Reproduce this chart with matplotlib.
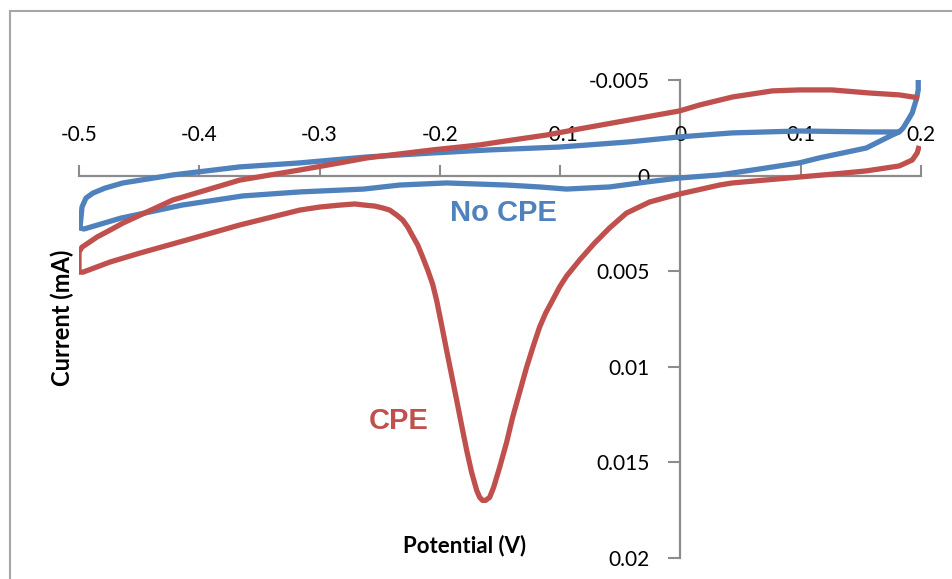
import matplotlib
matplotlib.use("Agg")
import matplotlib.pyplot as plt
from matplotlib.lines import Line2D

# cyclic voltammograms, potential in V, current in mA
cpe_v = [0.1985, 0.1819, 0.1570, 0.1262, 0.0988, 0.0764, 0.0432, 0.0158, -0.0008, -0.0282,
         -0.0565, -0.0839, -0.1113, -0.1503, -0.1669, -0.2060, -0.2608, -0.2832, -0.3164, -0.3663,
         -0.4219, -0.4635, -0.4742, -0.4850, -0.4925, -0.4975, -0.5000, -0.5000,
         -0.4967, -0.4742, -0.4493, -0.4078, -0.3663, -0.3164, -0.2998, -0.2832, -0.2708, -0.2625,
         -0.2542, -0.2475, -0.2417, -0.2359, -0.2309, -0.2267, -0.2226, -0.2184, -0.2143, -0.2101,
         -0.2060, -0.2027, -0.1985, -0.1944, -0.1902, -0.1860, -0.1819, -0.1777, -0.1736, -0.1694,
         -0.1669, -0.1645, -0.1620, -0.1586, -0.1553, -0.1503, -0.1445, -0.1395, -0.1337, -0.1279,
         -0.1221, -0.1171, -0.1121, -0.1063, -0.1005, -0.0947, -0.0839, -0.0714, -0.0590, -0.0449,
         -0.0257, -0.0108, -0.0008, 0.0324, 0.0432, 0.0988, 0.1279, 0.1545, 0.1819, 0.1927,
         0.1968, 0.1985]
cpe_i = [-0.00406, -0.00422, -0.00432, -0.00448, -0.00448, -0.00443, -0.00411, -0.00369, -0.00338, -0.00307,
         -0.00275, -0.00244, -0.00212, -0.00176, -0.00160, -0.00134, -0.00092, -0.00066, -0.00029, 0.00024,
         0.00128, 0.00249, 0.00286, 0.00322, 0.00354, 0.00375, 0.00401, 0.00506,
         0.00506, 0.00453, 0.00406, 0.00333, 0.00259, 0.00181, 0.00165, 0.00155, 0.00149, 0.00155,
         0.00160, 0.00170, 0.00181, 0.00207, 0.00233, 0.00270, 0.00317, 0.00364, 0.00427, 0.00495,
         0.00569, 0.00653, 0.00784, 0.00915, 0.01046, 0.01177, 0.01308, 0.01439, 0.01554, 0.01648,
         0.01685, 0.01701, 0.01701, 0.01685, 0.01633, 0.01528, 0.01397, 0.01266, 0.01135, 0.01004,
         0.00888, 0.00794, 0.00721, 0.00653, 0.00584, 0.00527, 0.00443, 0.00354, 0.00275, 0.00197,
         0.00139, 0.00113, 0.00097, 0.00050, 0.00039, 0.00008, -0.00008, -0.00024, -0.00050, -0.00081,
         -0.00118, -0.00155]

nocpe_v = [0.1819, 0.1570, 0.0988, 0.0432, 0.0324, -0.0008, -0.0424, -0.1005, -0.1586, -0.2060,
           -0.2608, -0.3164, -0.3663, -0.4219, -0.4635, -0.4784, -0.4884, -0.4942, -0.4975, -0.4992,
           -0.4958, -0.4651, -0.4144, -0.3638, -0.3164, -0.2633, -0.2334, -0.1944, -0.1445, -0.1171,
           -0.0947, -0.0590, -0.0282, -0.0008, 0.0324, 0.0656, 0.0988, 0.1154, 0.1545, 0.1761,
           0.1819, 0.1852, 0.1902, 0.1927, 0.1960, 0.1977, 0.1977]
nocpe_i = [-0.00228, -0.00228, -0.00233, -0.00223, -0.00218, -0.00202, -0.00176, -0.00149, -0.00134, -0.00118,
           -0.00097, -0.00066, -0.00045, -0.00003, 0.00039, 0.00066, 0.00092, 0.00118, 0.00165, 0.00275,
           0.00280, 0.00223, 0.00155, 0.00107, 0.00086, 0.00071, 0.00050, 0.00039, 0.00050, 0.00060,
           0.00071, 0.00060, 0.00034, 0.00013, -0.00003, -0.00034, -0.00066, -0.00092, -0.00144, -0.00212,
           -0.00228, -0.00249, -0.00301, -0.00328, -0.00396, -0.00448, -0.00500]

xticks = [-0.5, -0.4, -0.3, -0.2, -0.1, 0, 0.1, 0.2]
xtick_labels = ["-0.5", "-0.4", "-0.3", "-0.2", "-0.1", "0", "0.1", "0.2"]
yticks = [-0.005, 0, 0.005, 0.01, 0.015, 0.02]
ytick_labels = ["-0.005", "0", "0.005", "0.01", "0.015", "0.02"]

red = "#C0504D"
blue = "#4F81BD"
grey = "#8C8C8C"
plt.rcParams['font.family'] = ['Lato', 'DejaVu Sans']

fig = plt.figure(figsize=(9.52, 5.79), dpi=100)
ax = fig.add_axes([79 / 952, 1 - 557.5 / 579, 842 / 952, 477.5 / 579])

ax.plot(nocpe_v, nocpe_i, color=blue, lw=3.8, solid_joinstyle='round', solid_capstyle='butt')
ax.plot(cpe_v, cpe_i, color=red, lw=3.8, solid_joinstyle='round', solid_capstyle='butt')

ax.set_xlim(-0.5, 0.2)
ax.set_ylim(0.02, -0.005)

# axes cross at the origin, excel style
ax.spines['left'].set_position(('data', 0))
ax.spines['top'].set_position(('data', 0))
ax.spines['right'].set_visible(False)
ax.spines['bottom'].set_visible(False)
for s in ['left', 'top']:
    ax.spines[s].set_color(grey)
    ax.spines[s].set_linewidth(1.6)
    ax.spines[s].set_zorder(0)

ax.xaxis.set_ticks_position('top')
ax.xaxis.set_label_position('bottom')
ax.set_xticks(xticks, xtick_labels)
ax.set_yticks(yticks, ytick_labels)
ax.tick_params(axis='x', direction='out', length=8, width=1.5, color=grey, pad=14, labelsize=15)
ax.tick_params(axis='y', direction='out', length=9, width=1.5, color=grey, pad=13, labelsize=15)
ax.patch.set_alpha(0)

ax.set_xlabel("Potential (V)", fontsize=16, fontweight='bold', va='center')
ax.xaxis.set_label_coords((465 - 79) / 842, (557.5 - 546) / 477.5)
ax.set_ylabel("Current (mA)", fontsize=17, fontweight='bold', va='center')
ax.yaxis.set_label_coords((62 - 79) / 842, (557.5 - 318) / 477.5)

ax.text(-0.1474, 0.00194, "No CPE", color=blue, fontsize=21, fontweight='bold',
        family='Liberation Sans', ha='center', va='center')
ax.text(-0.2342, 0.01287, "CPE", color=red, fontsize=21, fontweight='bold',
        family='Liberation Sans', ha='center', va='center')

# chart area border
fig.add_artist(Line2D([9.5 / 952, 9.5 / 952], [0, 1 - 11 / 579], color='#A6A6A6', lw=1.5))
fig.add_artist(Line2D([9.5 / 952, 1], [1 - 11 / 579, 1 - 11 / 579], color='#A6A6A6', lw=1.5))

fig.savefig("out.png", dpi=100)
